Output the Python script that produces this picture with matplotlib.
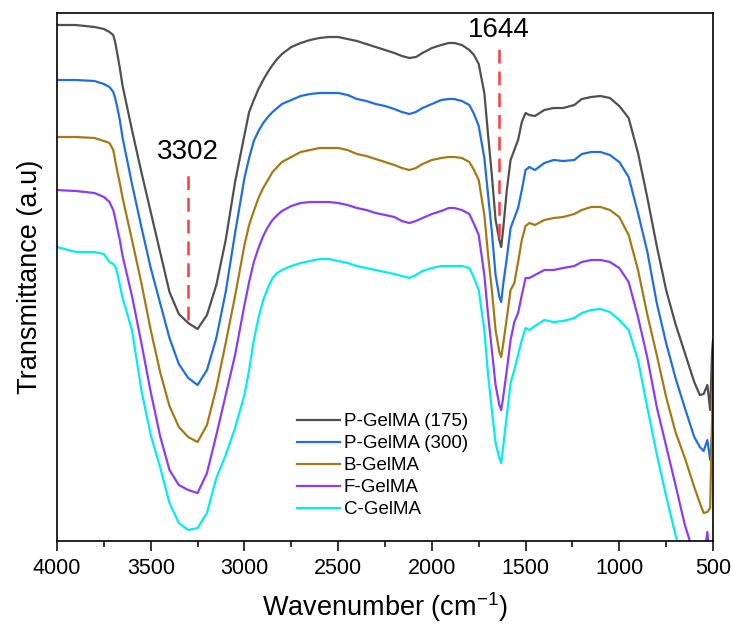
import matplotlib
matplotlib.use("Agg")
import matplotlib.pyplot as plt
from matplotlib.ticker import MultipleLocator

plt.rcParams['font.family'] = ['Liberation Sans', 'DejaVu Sans']
plt.rcParams['mathtext.fontset'] = 'custom'
plt.rcParams['mathtext.rm'] = 'Liberation Sans'
plt.rcParams['mathtext.it'] = 'Liberation Sans:italic'
plt.rcParams['mathtext.bf'] = 'Liberation Sans:bold'

# wavenumber grid (cm-1) shared by all spectra
wavenumber = [4000, 3900, 3800, 3750, 3720, 3700, 3690, 3680, 3665, 3650,
              3600, 3550, 3500, 3450, 3400, 3350, 3300, 3250, 3200, 3150,
              3100, 3050,
              3000, 2975, 2950, 2925, 2900, 2875, 2850, 2825, 2800, 2750,
              2700, 2650, 2600, 2550, 2500, 2450, 2400, 2350, 2300, 2250,
              2200, 2160, 2120, 2085, 2050, 2000, 1950, 1910, 1880, 1840,
              1800, 1775, 1750,
              1720, 1700, 1680, 1660, 1640, 1630, 1620, 1600, 1580, 1560,
              1540, 1520, 1500, 1480, 1450, 1400, 1350, 1300, 1240, 1200,
              1150, 1100, 1050, 1000, 950, 900, 850, 800, 750, 700,
              650, 600, 570, 550, 530, 515, 505, 500]

# transmittance (a.u., stacked)
p_gelma_175 = [516, 516, 514, 512, 509, 506, 499, 489, 473, 455,
               411, 369, 329, 289, 249, 227, 218, 212, 226, 256,
               301, 359,
               406, 429, 441, 452, 461, 469, 476, 482, 487, 494,
               498, 501, 503, 504, 504, 502, 500, 497, 494, 491,
               488, 485, 483, 484, 488, 493, 496, 498, 498, 496,
               491, 486, 477,
               448, 406, 366, 321, 301, 294, 311, 351, 381, 391,
               401, 419, 428, 426, 425, 431, 433, 433, 436, 442,
               444, 445, 443, 435, 423, 388, 343, 295, 251, 217,
               188, 159, 146, 147, 156, 131, 189, 201]
p_gelma_300 = [461, 461, 460, 457, 454, 449, 443, 435, 421, 403,
               357, 314, 273, 238, 203, 177, 163, 156, 171, 203,
               249, 308,
               363, 383, 400, 410, 418, 424, 429, 433, 437, 441,
               445, 447, 448, 448, 448, 446, 442, 440, 437, 435,
               432, 429, 427, 429, 433, 437, 441, 442, 442, 440,
               436, 427, 415,
               383, 346, 309, 266, 244, 239, 256, 283, 313, 323,
               333, 351, 371, 374, 371, 378, 381, 380, 381, 387,
               389, 389, 386, 379, 364, 328, 289, 238, 198, 163,
               133, 104, 94, 90, 101, 81, 106, 108]
b_gelma = [404, 404, 403, 400, 398, 391, 381, 371, 358, 343,
           301, 258, 211, 169, 135, 114, 104, 99, 116, 153,
           198, 245,
           296, 316, 330, 343, 353, 361, 369, 374, 379, 384,
           389, 391, 393, 393, 393, 391, 387, 385, 382, 379,
           376, 373, 371, 373, 377, 381, 383, 384, 384, 383,
           379, 371, 361,
           326, 286, 251, 211, 189, 184, 196, 223, 251, 258,
           279, 301, 315, 318, 316, 321, 323, 324, 327, 331,
           334, 334, 331, 324, 306, 271, 226, 186, 144, 109,
           83, 54, 38, 28, 29, 33, 121, 166]
f_gelma = [351, 350, 348, 344, 339, 331, 323, 314, 301, 285,
           245, 198, 149, 105, 71, 56, 51, 48, 68, 106,
           146, 186,
           236, 259, 279, 293, 305, 314, 321, 326, 330, 335,
           338, 339, 339, 339, 338, 336, 333, 331, 328, 326,
           324, 320, 318, 320, 323, 327, 330, 333, 333, 331,
           327, 317, 306,
           266, 226, 191, 156, 136, 131, 143, 171, 201, 219,
           228, 246, 263, 263, 266, 271, 271, 273, 275, 279,
           281, 281, 279, 273, 259, 224, 183, 134, 95, 56,
           16, -14, -29, -19, 9, -24, -34, -34]
c_gelma = [294, 289, 289, 287, 279, 277, 275, 269, 256, 243,
           211, 151, 106, 74, 38, 18, 11, 13, 28, 63,
           86, 113,
           146, 171, 201, 223, 241, 253, 263, 268, 271, 275,
           278, 280, 282, 282, 280, 278, 275, 273, 271, 269,
           267, 265, 263, 266, 270, 273, 275, 275, 275, 275,
           273, 263, 251,
           211, 166, 131, 98, 83, 78, 93, 126, 158, 171,
           186, 201, 213, 211, 215, 221, 219, 220, 223, 228,
           231, 232, 229, 221, 211, 181, 133, 87, 45, 6,
           -29, -59, -74, -84, -89, -94, -99, -99]

series = [p_gelma_175, p_gelma_300, b_gelma, f_gelma, c_gelma]
labels = ['P-GelMA (175)', 'P-GelMA (300)', 'B-GelMA', 'F-GelMA', 'C-GelMA']
colors = ['#505050', '#1f6fe0', '#a47a14', '#8a3cf6', '#00eeee']

# marked band positions
peaks = [3302, 1644]
peak_spans = [(221, 366), (304, 496)]
peak_text_y = [389, 511]

fig = plt.figure(figsize=(7.33, 6.28), dpi=100)
ax = fig.add_axes([0.0778, 0.1385, 0.8949, 0.8408])

for y, lab, c in zip(series, labels, colors):
    ax.plot(wavenumber, y, color=c, lw=1.6, label=lab)

for wn, (y0, y1), ty in zip(peaks, peak_spans, peak_text_y):
    ax.plot([wn, wn], [y0, y1], color='#ff3b3b', lw=1.8, dashes=(5.5, 3.2))
    ax.text(wn, ty, str(wn), ha='center', va='center', fontsize=20)

ax.set_xlim(4000, 500)
ax.set_ylim(0, 528)
ax.xaxis.set_major_locator(MultipleLocator(500))
ax.xaxis.set_minor_locator(MultipleLocator(250))
ax.set_yticks([])
ax.tick_params(axis='x', which='major', direction='out', length=7, width=1.1,
               labelsize=15.5, pad=5)
ax.tick_params(axis='x', which='minor', direction='out', length=4, width=1.1)
for sp in ax.spines.values():
    sp.set_linewidth(1.2)

ax.set_xlabel(r'Wavenumber (cm$^{-1}$)', fontsize=19.5, labelpad=8)
ax.set_ylabel('Transmittance (a.u)', fontsize=19.5, labelpad=10)

ax.legend(loc='upper left', bbox_to_anchor=(0.366, 0.2425), frameon=False,
          fontsize=13.5, handlelength=2.3, handletextpad=0.2,
          labelspacing=0.26, borderpad=0, borderaxespad=0)

fig.savefig('out.png', dpi=100)
